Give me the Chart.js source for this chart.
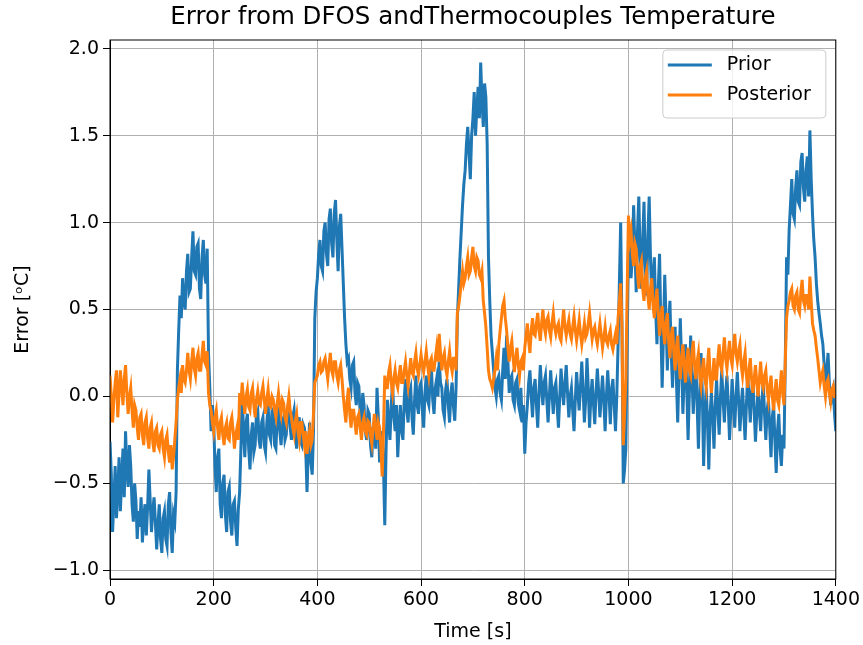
<!DOCTYPE html>
<html>
<head>
<meta charset="utf-8">
<script src="https://cdn.jsdelivr.net/npm/chart.js@4.4.1/dist/chart.umd.min.js"></script>
<style>
  html, body { margin: 0; padding: 0; background: #fff; }
  canvas { display: block; }
</style>
</head>
<body>
<canvas id="chart" width="863" height="645"></canvas>
<script>
// error readings, one every 2.5 s from 0 to 1400 s
const STEP_S = 2.5;

const priorErr = [
  -0.26, -0.45, -0.78, -0.60, -0.40, -0.70, -0.55, -0.35, -0.66, -0.48, -0.30, -0.58, -0.20, -0.42, -0.52, -0.28, -0.40, -0.62, -0.72, -0.50,
  -0.60, -0.82, -0.66, -0.75, -0.58, -0.84, -0.70, -0.62, -0.80, -0.64, -0.42, -0.60, -0.78, -0.66, -0.58, -0.72, -0.88, -0.74, -0.62, -0.82,
  -0.90, -0.70, -0.66, -0.82, -0.86, -0.62, -0.55, -0.78, -0.90, -0.68, -0.72, -0.55, 0.15, 0.38, 0.58, 0.45, 0.68, 0.55, 0.50, 0.72,
  0.82, 0.60, 0.62, 0.80, 0.95, 0.72, 0.70, 0.86, 0.88, 0.62, 0.56, 0.80, 0.90, 0.70, 0.65, 0.85, 0.25, 0.05, -0.20, -0.05,
  -0.15, -0.40, -0.55, -0.35, -0.30, -0.62, -0.70, -0.50, -0.45, -0.68, -0.78, -0.55, -0.52, -0.72, -0.80, -0.62, -0.60, -0.75, -0.86, -0.65,
  -0.55, -0.30, 0.02, -0.20, -0.35, -0.15, -0.10, -0.30, -0.42, -0.22, -0.15, -0.32, -0.28, -0.10, -0.08, -0.25, -0.30, -0.15, -0.12, -0.28,
  -0.32, -0.15, -0.05, -0.22, -0.25, -0.08, -0.10, -0.28, -0.30, -0.12, -0.06, -0.20, -0.28, -0.14, -0.12, -0.25, -0.22, -0.08, -0.02, -0.18,
  -0.25, -0.12, -0.08, -0.22, -0.30, -0.18, -0.12, -0.26, -0.28, -0.16, -0.18, -0.30, -0.55, -0.30, -0.15, -0.38, -0.45, -0.20, 0.45, 0.60,
  0.68, 0.82, 0.90, 0.75, 0.72, 0.95, 1.00, 0.82, 0.75, 1.02, 1.08, 0.88, 0.80, 1.05, 1.13, 0.90, 0.72, 0.98, 1.05, 0.85,
  0.65, 0.45, 0.30, 0.20, 0.22, 0.10, 0.05, 0.18, 0.20, 0.02, -0.05, 0.08, 0.06, -0.10, -0.15, 0.02, -0.05, -0.20, -0.25, -0.08,
  -0.10, -0.28, -0.35, -0.18, -0.15, -0.30, 0.05, -0.12, -0.38, -0.25, -0.20, -0.40, -0.74, -0.30, -0.02, -0.15, -0.25, -0.05, 0.08, -0.12,
  -0.20, -0.05, -0.35, -0.18, -0.05, -0.20, -0.25, -0.02, 0.10, -0.08, -0.15, 0.02, 0.05, -0.12, -0.22, -0.02, 0.12, -0.05, -0.10, 0.06,
  0.08, -0.08, -0.18, 0.02, 0.12, -0.02, -0.05, 0.10, 0.16, -0.02, -0.10, 0.05, 0.10, 0.00, 0.20, 0.08, 0.05, -0.08, -0.12, 0.04,
  0.10, -0.05, -0.15, 0.02, 0.08, -0.06, -0.14, 0.05, 0.45, 0.62, 0.80, 0.95, 1.10, 1.22, 1.30, 1.45, 1.55, 1.40, 1.25, 1.50,
  1.60, 1.75, 1.50, 1.65, 1.78, 1.60, 1.92, 1.70, 1.55, 1.80, 1.72, 1.45, 0.80, 0.55, 0.35, 0.25, 0.15, 0.05, 0.00, 0.10,
  0.12, 0.02, -0.02, 0.15, 0.28, 0.10, 0.35, 0.20, 0.02, 0.10, 0.12, -0.02, -0.05, 0.08, 0.10, -0.04, -0.08, 0.05, -0.15, -0.05,
  -0.33, -0.15, -0.05, 0.08, 0.15, 0.00, -0.12, 0.05, 0.10, -0.05, -0.18, 0.02, 0.18, 0.05, -0.05, 0.08, 0.12, -0.02, -0.15, 0.00,
  0.15, 0.02, -0.10, 0.05, 0.08, -0.06, -0.18, 0.00, 0.16, 0.04, -0.05, 0.08, 0.18, 0.02, -0.12, 0.00, 0.05, -0.08, -0.20, -0.02,
  0.14, 0.02, -0.08, 0.06, 0.20, 0.04, -0.15, -0.02, 0.22, 0.05, -0.18, 0.00, 0.10, -0.04, -0.16, 0.02, 0.16, 0.03, -0.12, 0.00,
  0.12, -0.02, -0.20, 0.00, 0.15, 0.02, -0.16, 0.04, 0.10, -0.05, -0.20, 0.00, 0.30, 0.65, 1.00, 0.40, -0.50, -0.42, -0.30, 0.30,
  0.85, 0.96, 0.68, 0.80, 1.10, 0.85, 0.60, 0.95, 1.15, 0.80, 0.62, 0.90, 1.12, 0.75, 0.58, 0.92, 1.15, 0.80, 0.55, 0.70,
  0.80, 0.50, 0.30, 0.62, 0.82, 0.40, 0.05, 0.35, 0.70, 0.45, 0.15, 0.40, 0.55, 0.25, 0.05, 0.30, 0.40, 0.10, -0.15, 0.15,
  0.45, 0.20, -0.10, 0.10, 0.30, 0.05, -0.25, 0.02, 0.35, 0.12, -0.10, 0.08, 0.20, -0.05, -0.30, 0.00, 0.25, 0.02, -0.40, -0.10,
  0.05, -0.15, -0.42, -0.10, 0.02, -0.12, -0.30, -0.05, 0.10, -0.08, -0.22, 0.00, 0.15, -0.02, -0.15, 0.02, 0.12, -0.05, -0.25, -0.08,
  0.10, -0.05, -0.18, 0.00, 0.14, -0.02, -0.20, -0.06, 0.05, -0.10, -0.25, -0.05, 0.12, 0.00, -0.15, 0.02, 0.10, -0.08, -0.26, -0.10,
  0.05, -0.08, -0.20, -0.02, 0.08, -0.10, -0.25, -0.08, -0.02, -0.18, -0.35, -0.12, -0.05, -0.25, -0.44, -0.20, -0.10, -0.30, -0.40, -0.22,
  -0.30, 0.20, 0.80, 0.70, 0.96, 1.10, 1.25, 1.05, 1.02, 1.20, 1.30, 1.12, 1.10, 1.35, 1.40, 1.20, 1.12, 1.30, 1.38, 1.15,
  1.53, 1.25, 1.05, 0.90, 0.80, 0.65, 0.55, 0.48, 0.42, 0.35, 0.30, 0.18, 0.06, 0.15, 0.25, 0.08, -0.05, 0.02, 0.05, -0.10,
  -0.20
];

const posteriorErr = [
  0.12, 0.00, -0.15, -0.02, 0.08, 0.15, -0.12, 0.02, 0.15, 0.05, -0.05, 0.10, 0.18, 0.02, -0.10, 0.00, 0.05, -0.08, -0.18, -0.05,
  -0.08, -0.18, -0.25, -0.12, -0.10, -0.22, -0.28, -0.15, -0.12, -0.24, -0.30, -0.18, -0.15, -0.26, -0.32, -0.20, -0.18, -0.28, -0.30, -0.22,
  -0.20, -0.30, -0.35, -0.25, -0.22, -0.32, -0.38, -0.28, -0.42, -0.35, -0.25, -0.15, -0.02, 0.05, 0.10, 0.02, 0.18, 0.10, 0.08, 0.15,
  0.25, 0.15, 0.10, 0.20, 0.28, 0.16, 0.12, 0.22, 0.25, 0.15, 0.15, 0.24, 0.32, 0.20, 0.18, 0.26, 0.02, -0.05, -0.08, -0.15,
  -0.20, -0.12, -0.08, -0.18, -0.25, -0.15, -0.12, -0.22, -0.28, -0.18, -0.15, -0.24, -0.25, -0.15, -0.12, -0.20, -0.30, -0.22, -0.18, -0.25,
  0.02, -0.05, 0.08, -0.02, -0.10, 0.00, 0.04, -0.06, -0.08, 0.02, 0.05, -0.05, -0.12, -0.02, 0.03, -0.04, -0.05, 0.02, 0.06, -0.02,
  -0.10, -0.02, 0.04, -0.05, -0.06, 0.00, -0.02, -0.08, -0.12, -0.04, 0.02, -0.05, -0.10, -0.02, -0.04, -0.12, -0.15, -0.06, 0.00, -0.08,
  -0.12, -0.18, -0.22, -0.14, -0.10, -0.20, -0.25, -0.15, -0.15, -0.22, -0.28, -0.20, -0.33, -0.25, -0.20, -0.28, -0.25, -0.10, 0.08, 0.10,
  0.12, 0.18, 0.20, 0.14, 0.15, 0.20, 0.22, 0.16, 0.10, 0.18, 0.25, 0.15, 0.12, 0.20, 0.20, 0.12, 0.08, 0.15, 0.18, 0.10,
  0.00, -0.08, -0.15, -0.02, 0.05, -0.10, -0.18, -0.08, -0.08, -0.15, -0.22, -0.12, -0.10, -0.18, -0.25, -0.15, -0.12, -0.20, -0.22, -0.14,
  -0.15, -0.22, -0.27, -0.18, -0.10, -0.18, -0.25, -0.15, -0.18, -0.30, -0.46, -0.20, 0.12, 0.05, 0.05, 0.14, 0.18, 0.08, 0.02, 0.10,
  0.15, 0.08, 0.05, 0.12, 0.18, 0.08, 0.08, 0.15, 0.20, 0.12, 0.06, 0.14, 0.22, 0.14, 0.12, 0.20, 0.25, 0.16, 0.12, 0.18,
  0.24, 0.18, 0.14, 0.20, 0.26, 0.18, 0.12, 0.20, 0.22, 0.15, 0.15, 0.22, 0.28, 0.20, 0.36, 0.25, 0.15, 0.22, 0.25, 0.16,
  0.12, 0.20, 0.26, 0.18, 0.14, 0.22, 0.22, 0.15, 0.48, 0.52, 0.58, 0.65, 0.72, 0.65, 0.68, 0.75, 0.80, 0.70, 0.72, 0.80,
  0.86, 0.75, 0.72, 0.80, 0.78, 0.70, 0.68, 0.72, 0.55, 0.48, 0.40, 0.28, 0.15, 0.10, 0.08, 0.05, 0.10, 0.15, 0.22, 0.15,
  0.30, 0.38, 0.45, 0.52, 0.55, 0.45, 0.38, 0.28, 0.20, 0.28, 0.32, 0.22, 0.14, 0.22, 0.28, 0.18, 0.12, 0.20, 0.22, 0.15,
  0.28, 0.35, 0.42, 0.32, 0.25, 0.38, 0.45, 0.36, 0.35, 0.42, 0.48, 0.38, 0.32, 0.42, 0.50, 0.40, 0.36, 0.44, 0.46, 0.38,
  0.34, 0.42, 0.48, 0.40, 0.36, 0.40, 0.42, 0.34, 0.32, 0.42, 0.50, 0.40, 0.35, 0.40, 0.44, 0.36, 0.33, 0.40, 0.46, 0.38,
  0.32, 0.38, 0.44, 0.36, 0.30, 0.36, 0.42, 0.34, 0.36, 0.42, 0.48, 0.40, 0.33, 0.38, 0.40, 0.34, 0.30, 0.36, 0.42, 0.35,
  0.28, 0.34, 0.40, 0.32, 0.30, 0.35, 0.38, 0.30, 0.27, 0.32, 0.36, 0.30, 0.45, 0.55, 0.65, 0.40, -0.28, -0.10, 0.10, 0.60,
  1.04, 0.90, 0.95, 0.82, 0.75, 0.88, 0.85, 0.70, 0.62, 0.75, 0.78, 0.62, 0.55, 0.68, 0.72, 0.58, 0.50, 0.62, 0.68, 0.52,
  0.45, 0.55, 0.62, 0.48, 0.35, 0.45, 0.52, 0.38, 0.30, 0.42, 0.48, 0.32, 0.22, 0.35, 0.40, 0.25, 0.15, 0.28, 0.35, 0.20,
  0.10, 0.22, 0.30, 0.18, 0.08, 0.20, 0.28, 0.15, 0.12, 0.25, 0.32, 0.18, 0.10, 0.20, 0.25, 0.12, 0.06, 0.15, 0.22, 0.10,
  0.05, 0.18, 0.28, 0.12, 0.02, 0.12, 0.22, 0.10, 0.10, 0.22, 0.30, 0.18, 0.15, 0.25, 0.34, 0.22, 0.16, 0.25, 0.32, 0.22,
  0.18, 0.28, 0.36, 0.25, 0.20, 0.26, 0.30, 0.18, 0.12, 0.20, 0.25, 0.12, 0.05, 0.15, 0.22, 0.10, 0.02, 0.10, 0.18, 0.08,
  0.00, 0.10, 0.20, 0.08, 0.05, 0.12, 0.15, 0.04, -0.02, 0.06, 0.12, 0.00, -0.08, 0.02, 0.10, -0.02, -0.05, 0.05, 0.15, 0.02,
  -0.05, 0.20, 0.45, 0.52, 0.55, 0.60, 0.62, 0.52, 0.50, 0.58, 0.60, 0.50, 0.48, 0.60, 0.67, 0.55, 0.52, 0.58, 0.58, 0.50,
  0.69, 0.55, 0.42, 0.38, 0.35, 0.28, 0.22, 0.15, 0.08, 0.12, 0.15, 0.06, 0.00, 0.08, 0.10, 0.02, -0.03, 0.04, 0.06, 0.00,
  0.00
];

const xTicks = [0, 200, 400, 600, 800, 1000, 1200, 1400];
const yTicks = [-1.0, -0.5, 0.0, 0.5, 1.0, 1.5, 2.0];

const toPoints = arr => arr.map((v, i) => ({ x: i * STEP_S, y: v }));

Chart.defaults.font.family = 'DejaVu Sans';
Chart.defaults.color = '#000';

// matplotlib-ish frame and legend box inside the axes
const frameAndLegend = {
  id: 'frameAndLegend',
  afterDraw(chart) {
    const { ctx, chartArea: a } = chart;
    ctx.save();
    ctx.strokeStyle = '#000';
    ctx.lineWidth = 1;
    ctx.strokeRect(a.left, a.top, a.right - a.left, a.bottom - a.top);

    const x0 = a.right - 173, y0 = a.top + 10, w = 163, h = 68;
    ctx.beginPath();
    ctx.roundRect(x0, y0, w, h, 4);
    ctx.fillStyle = 'rgba(255,255,255,0.8)';
    ctx.fill();
    ctx.strokeStyle = '#cccccc';
    ctx.stroke();

    ctx.font = '19px "DejaVu Sans"';
    ctx.textBaseline = 'middle';
    chart.data.datasets.forEach((ds, i) => {
      const y = y0 + 15 + i * 30;
      ctx.beginPath();
      ctx.moveTo(x0 + 5, y);
      ctx.lineTo(x0 + 49, y);
      ctx.strokeStyle = ds.borderColor;
      ctx.lineWidth = 2.8;
      ctx.stroke();
      ctx.fillStyle = '#000';
      ctx.fillText(ds.label, x0 + 64, y);
    });
    ctx.restore();
  }
};

new Chart(document.getElementById('chart'), {
  type: 'line',
  data: {
    datasets: [
      { label: 'Prior', data: toPoints(priorErr), borderColor: '#1f77b4', borderWidth: 3, pointRadius: 0, order: 2 },
      { label: 'Posterior', data: toPoints(posteriorErr), borderColor: '#ff7f0e', borderWidth: 3, pointRadius: 0, order: 1 }
    ]
  },
  options: {
    responsive: false,
    animation: false,
    devicePixelRatio: 1,
    layout: { padding: { left: 0, right: 27, top: 0, bottom: 0 } },
    plugins: {
      legend: { display: false },
      tooltip: { enabled: false },
      title: {
        display: true,
        fullSize: false,
        text: 'Error from DFOS andThermocouples Temperature',
        font: { size: 24.5, weight: 'normal' },
        color: '#000',
        padding: { top: 3, bottom: 7.6 }
      }
    },
    scales: {
      x: {
        type: 'linear',
        min: 0, max: 1400,
        afterBuildTicks: s => { s.ticks = xTicks.map(v => ({ value: v })); },
        afterFit: s => { s.height = 66; },
        ticks: { font: { size: 19 }, color: '#000', padding: 3, maxRotation: 0, autoSkip: false, callback: v => String(v) },
        grid: { color: '#b0b0b0', lineWidth: 1, tickLength: 7, tickColor: '#000' },
        border: { color: '#000', width: 1 },
        title: { display: true, text: 'Time [s]', font: { size: 19 }, color: '#000', padding: { top: 0, bottom: 2 } }
      },
      y: {
        min: -1.05, max: 2.05,
        afterBuildTicks: s => { s.ticks = yTicks.map(v => ({ value: v })); },
        afterFit: s => { s.width = 110; },
        ticks: {
          font: { size: 19 }, color: '#000', padding: 4,
          callback: v => v.toFixed(1).replace('-', '\u2212')
        },
        grid: { color: '#b0b0b0', lineWidth: 1, tickLength: 7, tickColor: '#000' },
        border: { color: '#000', width: 1 },
        title: { display: true, text: 'Error [\u1D52C]', font: { size: 19 }, color: '#000', padding: { top: 12, bottom: 0 } }
      }
    }
  },
  plugins: [frameAndLegend]
});
</script>
</body>
</html>
